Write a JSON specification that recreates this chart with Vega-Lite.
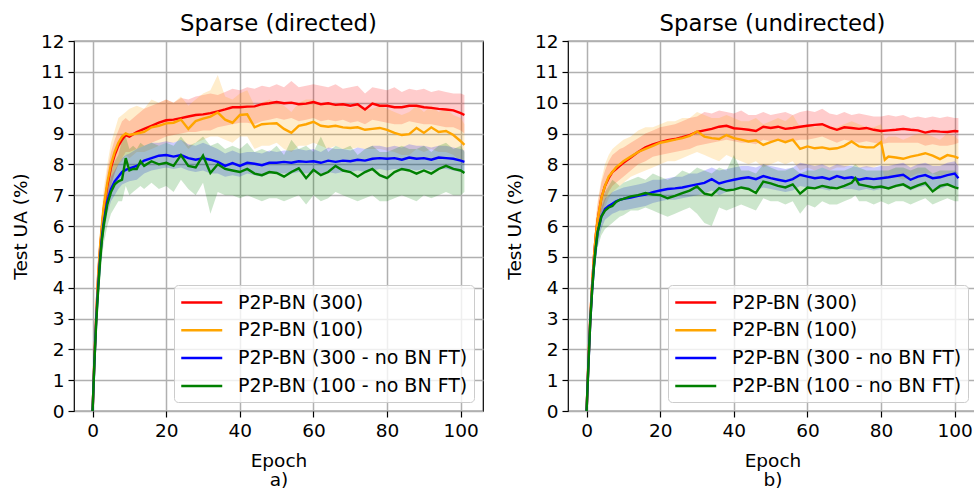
{
  "$schema": "https://vega.github.io/schema/vega-lite/v6.json",
  "padding": {"left": 10, "top": 12, "right": 0, "bottom": 0},
  "background": "white",
  "config": {
    "font": "DejaVu Sans",
    "view": {"stroke": "black", "strokeWidth": 1.2},
    "title": {"fontSize": 22.8, "fontWeight": "normal", "color": "black", "offset": -4, "anchor": "middle"},
    "axis": {
      "labelFontSize": 18.5, "labelColor": "black", "labelPadding": 4, "labelOverlap": false,
      "titleFontSize": 18.5, "titleFontWeight": "normal", "titleColor": "black",
      "tickColor": "black", "tickSize": 6, "tickWidth": 1.2,
      "domain": false, "grid": true, "gridColor": "#b0b0b0", "gridWidth": 1.5, "gridOpacity": 1
    },
    "legend": {
      "orient": "bottom-right", "offset": 9,
      "labelFontSize": 19, "labelColor": "black", "labelLimit": 500,
      "symbolType": "M-1,0H3", "symbolSize": 420, "symbolStrokeWidth": 2.5, "symbolOpacity": 1,
      "labelOffset": 35, "rowPadding": 5.8, "padding": 6,
      "strokeColor": "#cccccc", "fillColor": "rgba(255,255,255,0.8)", "cornerRadius": 4
    }
  },
  "datasets": {
    "dir": [
      {"s":"P2P-BN (300)","e":0,"y":0,"lo":0,"hi":0},
      {"s":"P2P-BN (300)","e":0.5,"y":1.7,"lo":1.5,"hi":1.9},
      {"s":"P2P-BN (300)","e":1,"y":3.1,"lo":2.8,"hi":3.4},
      {"s":"P2P-BN (300)","e":1.5,"y":4.3,"lo":3.9,"hi":4.6},
      {"s":"P2P-BN (300)","e":2,"y":5.2,"lo":4.8,"hi":5.6},
      {"s":"P2P-BN (300)","e":2.5,"y":5.9,"lo":5.5,"hi":6.3},
      {"s":"P2P-BN (300)","e":3,"y":6.5,"lo":6.0,"hi":6.9},
      {"s":"P2P-BN (300)","e":4,"y":7.3,"lo":6.8,"hi":7.8},
      {"s":"P2P-BN (300)","e":5,"y":7.9,"lo":7.3,"hi":8.4},
      {"s":"P2P-BN (300)","e":6,"y":8.3,"lo":7.7,"hi":8.8},
      {"s":"P2P-BN (300)","e":7,"y":8.6,"lo":8.0,"hi":9.1},
      {"s":"P2P-BN (300)","e":8,"y":8.8,"lo":8.2,"hi":9.4},
      {"s":"P2P-BN (300)","e":9,"y":8.95,"lo":8.4,"hi":9.5},
      {"s":"P2P-BN (300)","e":10,"y":8.9,"lo":8.4,"hi":9.4},
      {"s":"P2P-BN (300)","e":12,"y":9.05,"lo":8.5,"hi":9.6},
      {"s":"P2P-BN (300)","e":14,"y":9.15,"lo":8.6,"hi":9.8},
      {"s":"P2P-BN (300)","e":16,"y":9.25,"lo":8.7,"hi":9.9},
      {"s":"P2P-BN (300)","e":18,"y":9.35,"lo":8.8,"hi":10.0},
      {"s":"P2P-BN (300)","e":20,"y":9.43,"lo":8.9,"hi":10.1},
      {"s":"P2P-BN (300)","e":22,"y":9.45,"lo":8.95,"hi":10.0},
      {"s":"P2P-BN (300)","e":24,"y":9.5,"lo":9.0,"hi":10.15},
      {"s":"P2P-BN (300)","e":26,"y":9.55,"lo":9.05,"hi":10.1},
      {"s":"P2P-BN (300)","e":28,"y":9.6,"lo":9.05,"hi":10.2},
      {"s":"P2P-BN (300)","e":30,"y":9.62,"lo":9.1,"hi":10.25},
      {"s":"P2P-BN (300)","e":32,"y":9.66,"lo":9.1,"hi":10.3},
      {"s":"P2P-BN (300)","e":34,"y":9.72,"lo":9.2,"hi":10.25},
      {"s":"P2P-BN (300)","e":36,"y":9.78,"lo":9.25,"hi":10.35},
      {"s":"P2P-BN (300)","e":38,"y":9.85,"lo":9.3,"hi":10.45},
      {"s":"P2P-BN (300)","e":40,"y":9.85,"lo":9.35,"hi":10.4},
      {"s":"P2P-BN (300)","e":42,"y":9.87,"lo":9.35,"hi":10.5},
      {"s":"P2P-BN (300)","e":44,"y":9.88,"lo":9.3,"hi":10.45},
      {"s":"P2P-BN (300)","e":46,"y":9.95,"lo":9.4,"hi":10.55},
      {"s":"P2P-BN (300)","e":48,"y":9.98,"lo":9.45,"hi":10.5},
      {"s":"P2P-BN (300)","e":50,"y":10.02,"lo":9.5,"hi":10.6},
      {"s":"P2P-BN (300)","e":52,"y":9.98,"lo":9.45,"hi":10.5},
      {"s":"P2P-BN (300)","e":54,"y":10.0,"lo":9.5,"hi":10.7},
      {"s":"P2P-BN (300)","e":56,"y":9.95,"lo":9.4,"hi":10.5},
      {"s":"P2P-BN (300)","e":58,"y":9.97,"lo":9.45,"hi":10.55},
      {"s":"P2P-BN (300)","e":60,"y":10.02,"lo":9.5,"hi":10.6},
      {"s":"P2P-BN (300)","e":62,"y":9.95,"lo":9.4,"hi":10.55},
      {"s":"P2P-BN (300)","e":64,"y":9.98,"lo":9.45,"hi":10.5},
      {"s":"P2P-BN (300)","e":66,"y":9.93,"lo":9.4,"hi":10.6},
      {"s":"P2P-BN (300)","e":68,"y":9.95,"lo":9.45,"hi":10.45},
      {"s":"P2P-BN (300)","e":70,"y":9.9,"lo":9.35,"hi":10.5},
      {"s":"P2P-BN (300)","e":72,"y":9.95,"lo":9.4,"hi":10.55},
      {"s":"P2P-BN (300)","e":74,"y":9.78,"lo":9.3,"hi":10.3},
      {"s":"P2P-BN (300)","e":76,"y":9.97,"lo":9.45,"hi":10.5},
      {"s":"P2P-BN (300)","e":78,"y":9.9,"lo":9.4,"hi":10.45},
      {"s":"P2P-BN (300)","e":80,"y":9.9,"lo":9.35,"hi":10.4},
      {"s":"P2P-BN (300)","e":82,"y":9.85,"lo":9.3,"hi":10.5},
      {"s":"P2P-BN (300)","e":84,"y":9.85,"lo":9.3,"hi":10.35},
      {"s":"P2P-BN (300)","e":86,"y":9.9,"lo":9.4,"hi":10.45},
      {"s":"P2P-BN (300)","e":88,"y":9.9,"lo":9.35,"hi":10.4},
      {"s":"P2P-BN (300)","e":90,"y":9.85,"lo":9.3,"hi":10.45},
      {"s":"P2P-BN (300)","e":92,"y":9.83,"lo":9.3,"hi":10.35},
      {"s":"P2P-BN (300)","e":94,"y":9.8,"lo":9.25,"hi":10.4},
      {"s":"P2P-BN (300)","e":96,"y":9.78,"lo":9.2,"hi":10.35},
      {"s":"P2P-BN (300)","e":98,"y":9.75,"lo":9.2,"hi":10.3},
      {"s":"P2P-BN (300)","e":100,"y":9.66,"lo":9.1,"hi":10.3},
      {"s":"P2P-BN (300)","e":101,"y":9.6,"lo":9.0,"hi":10.25},

      {"s":"P2P-BN (100)","e":0,"y":0,"lo":0,"hi":0},
      {"s":"P2P-BN (100)","e":0.5,"y":1.7,"lo":1.4,"hi":2.0},
      {"s":"P2P-BN (100)","e":1,"y":3.1,"lo":2.7,"hi":3.5},
      {"s":"P2P-BN (100)","e":1.5,"y":4.4,"lo":3.9,"hi":4.9},
      {"s":"P2P-BN (100)","e":2,"y":5.3,"lo":4.8,"hi":5.8},
      {"s":"P2P-BN (100)","e":2.5,"y":6.0,"lo":5.4,"hi":6.5},
      {"s":"P2P-BN (100)","e":3,"y":6.6,"lo":6.0,"hi":7.2},
      {"s":"P2P-BN (100)","e":4,"y":7.4,"lo":6.8,"hi":8.0},
      {"s":"P2P-BN (100)","e":5,"y":8.0,"lo":7.3,"hi":8.7},
      {"s":"P2P-BN (100)","e":6,"y":8.4,"lo":7.7,"hi":9.1},
      {"s":"P2P-BN (100)","e":7,"y":8.7,"lo":8.0,"hi":9.5},
      {"s":"P2P-BN (100)","e":8,"y":8.9,"lo":8.1,"hi":9.6},
      {"s":"P2P-BN (100)","e":9,"y":9.0,"lo":8.3,"hi":9.7},
      {"s":"P2P-BN (100)","e":10,"y":8.95,"lo":8.2,"hi":9.8},
      {"s":"P2P-BN (100)","e":12,"y":9.0,"lo":8.4,"hi":9.9},
      {"s":"P2P-BN (100)","e":14,"y":9.05,"lo":8.4,"hi":9.8},
      {"s":"P2P-BN (100)","e":16,"y":9.2,"lo":8.5,"hi":10.1},
      {"s":"P2P-BN (100)","e":18,"y":9.25,"lo":8.6,"hi":10.0},
      {"s":"P2P-BN (100)","e":20,"y":9.33,"lo":8.7,"hi":10.1},
      {"s":"P2P-BN (100)","e":22,"y":9.35,"lo":8.7,"hi":10.0},
      {"s":"P2P-BN (100)","e":24,"y":9.45,"lo":8.8,"hi":10.2},
      {"s":"P2P-BN (100)","e":26,"y":9.15,"lo":8.5,"hi":9.9},
      {"s":"P2P-BN (100)","e":28,"y":9.4,"lo":8.7,"hi":10.1},
      {"s":"P2P-BN (100)","e":30,"y":9.48,"lo":8.8,"hi":10.3},
      {"s":"P2P-BN (100)","e":32,"y":9.55,"lo":8.9,"hi":10.4},
      {"s":"P2P-BN (100)","e":34,"y":9.68,"lo":8.9,"hi":10.9},
      {"s":"P2P-BN (100)","e":36,"y":9.45,"lo":8.8,"hi":10.2},
      {"s":"P2P-BN (100)","e":38,"y":9.35,"lo":8.7,"hi":10.1},
      {"s":"P2P-BN (100)","e":40,"y":9.6,"lo":8.9,"hi":10.3},
      {"s":"P2P-BN (100)","e":42,"y":9.62,"lo":8.9,"hi":10.4},
      {"s":"P2P-BN (100)","e":44,"y":9.2,"lo":8.5,"hi":9.9},
      {"s":"P2P-BN (100)","e":46,"y":9.3,"lo":8.6,"hi":10.0},
      {"s":"P2P-BN (100)","e":48,"y":9.32,"lo":8.6,"hi":10.1},
      {"s":"P2P-BN (100)","e":50,"y":9.33,"lo":8.7,"hi":10.0},
      {"s":"P2P-BN (100)","e":52,"y":9.15,"lo":8.5,"hi":9.9},
      {"s":"P2P-BN (100)","e":54,"y":9.02,"lo":8.4,"hi":9.7},
      {"s":"P2P-BN (100)","e":56,"y":9.25,"lo":8.6,"hi":10.0},
      {"s":"P2P-BN (100)","e":58,"y":9.3,"lo":8.6,"hi":10.1},
      {"s":"P2P-BN (100)","e":60,"y":9.38,"lo":8.7,"hi":10.1},
      {"s":"P2P-BN (100)","e":62,"y":9.25,"lo":8.6,"hi":9.9},
      {"s":"P2P-BN (100)","e":64,"y":9.22,"lo":8.5,"hi":10.0},
      {"s":"P2P-BN (100)","e":66,"y":9.25,"lo":8.6,"hi":9.9},
      {"s":"P2P-BN (100)","e":68,"y":9.2,"lo":8.5,"hi":9.9},
      {"s":"P2P-BN (100)","e":70,"y":9.18,"lo":8.5,"hi":9.8},
      {"s":"P2P-BN (100)","e":72,"y":9.2,"lo":8.55,"hi":9.9},
      {"s":"P2P-BN (100)","e":74,"y":9.12,"lo":8.5,"hi":9.8},
      {"s":"P2P-BN (100)","e":76,"y":9.15,"lo":8.5,"hi":9.8},
      {"s":"P2P-BN (100)","e":78,"y":9.18,"lo":8.5,"hi":9.9},
      {"s":"P2P-BN (100)","e":80,"y":9.12,"lo":8.45,"hi":9.8},
      {"s":"P2P-BN (100)","e":82,"y":9.02,"lo":8.4,"hi":9.7},
      {"s":"P2P-BN (100)","e":84,"y":8.95,"lo":8.3,"hi":9.6},
      {"s":"P2P-BN (100)","e":86,"y":8.98,"lo":8.3,"hi":9.7},
      {"s":"P2P-BN (100)","e":88,"y":9.18,"lo":8.5,"hi":9.9},
      {"s":"P2P-BN (100)","e":90,"y":9.02,"lo":8.4,"hi":9.7},
      {"s":"P2P-BN (100)","e":92,"y":9.2,"lo":8.5,"hi":9.9},
      {"s":"P2P-BN (100)","e":94,"y":9.05,"lo":8.4,"hi":9.7},
      {"s":"P2P-BN (100)","e":96,"y":9.08,"lo":8.4,"hi":9.8},
      {"s":"P2P-BN (100)","e":98,"y":8.95,"lo":8.3,"hi":9.6},
      {"s":"P2P-BN (100)","e":100,"y":8.75,"lo":8.1,"hi":9.5},
      {"s":"P2P-BN (100)","e":101,"y":8.63,"lo":8.0,"hi":9.3},

      {"s":"P2P-BN (300 - no BN FT)","e":0,"y":0,"lo":0,"hi":0},
      {"s":"P2P-BN (300 - no BN FT)","e":0.5,"y":1.6,"lo":1.4,"hi":1.8},
      {"s":"P2P-BN (300 - no BN FT)","e":1,"y":3.0,"lo":2.7,"hi":3.2},
      {"s":"P2P-BN (300 - no BN FT)","e":1.5,"y":4.0,"lo":3.7,"hi":4.3},
      {"s":"P2P-BN (300 - no BN FT)","e":2,"y":4.9,"lo":4.5,"hi":5.2},
      {"s":"P2P-BN (300 - no BN FT)","e":2.5,"y":5.6,"lo":5.2,"hi":5.9},
      {"s":"P2P-BN (300 - no BN FT)","e":3,"y":6.1,"lo":5.7,"hi":6.4},
      {"s":"P2P-BN (300 - no BN FT)","e":4,"y":6.8,"lo":6.4,"hi":7.1},
      {"s":"P2P-BN (300 - no BN FT)","e":5,"y":7.2,"lo":6.8,"hi":7.6},
      {"s":"P2P-BN (300 - no BN FT)","e":6,"y":7.45,"lo":7.0,"hi":7.8},
      {"s":"P2P-BN (300 - no BN FT)","e":7,"y":7.6,"lo":7.2,"hi":8.0},
      {"s":"P2P-BN (300 - no BN FT)","e":8,"y":7.75,"lo":7.35,"hi":8.2},
      {"s":"P2P-BN (300 - no BN FT)","e":9,"y":7.82,"lo":7.4,"hi":8.3},
      {"s":"P2P-BN (300 - no BN FT)","e":10,"y":7.87,"lo":7.45,"hi":8.35},
      {"s":"P2P-BN (300 - no BN FT)","e":12,"y":7.95,"lo":7.5,"hi":8.5},
      {"s":"P2P-BN (300 - no BN FT)","e":14,"y":8.12,"lo":7.7,"hi":8.6},
      {"s":"P2P-BN (300 - no BN FT)","e":16,"y":8.2,"lo":7.8,"hi":8.7},
      {"s":"P2P-BN (300 - no BN FT)","e":18,"y":8.28,"lo":7.85,"hi":8.7},
      {"s":"P2P-BN (300 - no BN FT)","e":20,"y":8.3,"lo":7.9,"hi":8.75},
      {"s":"P2P-BN (300 - no BN FT)","e":22,"y":8.25,"lo":7.85,"hi":8.7},
      {"s":"P2P-BN (300 - no BN FT)","e":24,"y":8.3,"lo":7.9,"hi":8.8},
      {"s":"P2P-BN (300 - no BN FT)","e":26,"y":8.2,"lo":7.8,"hi":8.65},
      {"s":"P2P-BN (300 - no BN FT)","e":28,"y":8.15,"lo":7.75,"hi":8.6},
      {"s":"P2P-BN (300 - no BN FT)","e":30,"y":8.2,"lo":7.8,"hi":8.7},
      {"s":"P2P-BN (300 - no BN FT)","e":32,"y":8.15,"lo":7.7,"hi":8.6},
      {"s":"P2P-BN (300 - no BN FT)","e":34,"y":8.08,"lo":7.7,"hi":8.5},
      {"s":"P2P-BN (300 - no BN FT)","e":36,"y":7.95,"lo":7.6,"hi":8.35},
      {"s":"P2P-BN (300 - no BN FT)","e":38,"y":8.04,"lo":7.65,"hi":8.45},
      {"s":"P2P-BN (300 - no BN FT)","e":40,"y":7.95,"lo":7.6,"hi":8.35},
      {"s":"P2P-BN (300 - no BN FT)","e":42,"y":8.05,"lo":7.7,"hi":8.4},
      {"s":"P2P-BN (300 - no BN FT)","e":44,"y":8.02,"lo":7.65,"hi":8.4},
      {"s":"P2P-BN (300 - no BN FT)","e":46,"y":7.97,"lo":7.6,"hi":8.35},
      {"s":"P2P-BN (300 - no BN FT)","e":48,"y":8.05,"lo":7.7,"hi":8.45},
      {"s":"P2P-BN (300 - no BN FT)","e":50,"y":8.05,"lo":7.7,"hi":8.4},
      {"s":"P2P-BN (300 - no BN FT)","e":52,"y":8.08,"lo":7.7,"hi":8.45},
      {"s":"P2P-BN (300 - no BN FT)","e":54,"y":8.05,"lo":7.7,"hi":8.45},
      {"s":"P2P-BN (300 - no BN FT)","e":56,"y":8.1,"lo":7.75,"hi":8.5},
      {"s":"P2P-BN (300 - no BN FT)","e":58,"y":8.08,"lo":7.7,"hi":8.45},
      {"s":"P2P-BN (300 - no BN FT)","e":60,"y":8.1,"lo":7.75,"hi":8.5},
      {"s":"P2P-BN (300 - no BN FT)","e":62,"y":8.05,"lo":7.7,"hi":8.4},
      {"s":"P2P-BN (300 - no BN FT)","e":64,"y":8.12,"lo":7.75,"hi":8.55},
      {"s":"P2P-BN (300 - no BN FT)","e":66,"y":8.08,"lo":7.7,"hi":8.5},
      {"s":"P2P-BN (300 - no BN FT)","e":68,"y":8.12,"lo":7.75,"hi":8.5},
      {"s":"P2P-BN (300 - no BN FT)","e":70,"y":8.1,"lo":7.75,"hi":8.45},
      {"s":"P2P-BN (300 - no BN FT)","e":72,"y":8.15,"lo":7.8,"hi":8.55},
      {"s":"P2P-BN (300 - no BN FT)","e":74,"y":8.12,"lo":7.75,"hi":8.5},
      {"s":"P2P-BN (300 - no BN FT)","e":76,"y":8.18,"lo":7.8,"hi":8.6},
      {"s":"P2P-BN (300 - no BN FT)","e":78,"y":8.2,"lo":7.85,"hi":8.6},
      {"s":"P2P-BN (300 - no BN FT)","e":80,"y":8.18,"lo":7.8,"hi":8.55},
      {"s":"P2P-BN (300 - no BN FT)","e":82,"y":8.2,"lo":7.85,"hi":8.6},
      {"s":"P2P-BN (300 - no BN FT)","e":84,"y":8.15,"lo":7.8,"hi":8.55},
      {"s":"P2P-BN (300 - no BN FT)","e":86,"y":8.22,"lo":7.85,"hi":8.65},
      {"s":"P2P-BN (300 - no BN FT)","e":88,"y":8.18,"lo":7.8,"hi":8.6},
      {"s":"P2P-BN (300 - no BN FT)","e":90,"y":8.2,"lo":7.85,"hi":8.6},
      {"s":"P2P-BN (300 - no BN FT)","e":92,"y":8.15,"lo":7.8,"hi":8.55},
      {"s":"P2P-BN (300 - no BN FT)","e":94,"y":8.22,"lo":7.85,"hi":8.6},
      {"s":"P2P-BN (300 - no BN FT)","e":96,"y":8.2,"lo":7.85,"hi":8.6},
      {"s":"P2P-BN (300 - no BN FT)","e":98,"y":8.18,"lo":7.8,"hi":8.55},
      {"s":"P2P-BN (300 - no BN FT)","e":100,"y":8.12,"lo":7.75,"hi":8.5},
      {"s":"P2P-BN (300 - no BN FT)","e":101,"y":8.08,"lo":7.7,"hi":8.45},

      {"s":"P2P-BN (100 - no BN FT)","e":0,"y":0,"lo":0,"hi":0},
      {"s":"P2P-BN (100 - no BN FT)","e":0.5,"y":1.6,"lo":1.3,"hi":1.9},
      {"s":"P2P-BN (100 - no BN FT)","e":1,"y":2.9,"lo":2.5,"hi":3.3},
      {"s":"P2P-BN (100 - no BN FT)","e":1.5,"y":3.9,"lo":3.4,"hi":4.4},
      {"s":"P2P-BN (100 - no BN FT)","e":2,"y":4.8,"lo":4.2,"hi":5.3},
      {"s":"P2P-BN (100 - no BN FT)","e":2.5,"y":5.5,"lo":4.9,"hi":6.0},
      {"s":"P2P-BN (100 - no BN FT)","e":3,"y":6.0,"lo":5.4,"hi":6.6},
      {"s":"P2P-BN (100 - no BN FT)","e":4,"y":6.7,"lo":6.0,"hi":7.3},
      {"s":"P2P-BN (100 - no BN FT)","e":5,"y":7.1,"lo":6.4,"hi":7.8},
      {"s":"P2P-BN (100 - no BN FT)","e":6,"y":7.35,"lo":6.6,"hi":8.1},
      {"s":"P2P-BN (100 - no BN FT)","e":7,"y":7.45,"lo":6.8,"hi":8.3},
      {"s":"P2P-BN (100 - no BN FT)","e":8,"y":7.5,"lo":6.8,"hi":8.8},
      {"s":"P2P-BN (100 - no BN FT)","e":9,"y":8.2,"lo":7.3,"hi":8.9},
      {"s":"P2P-BN (100 - no BN FT)","e":10,"y":7.8,"lo":7.0,"hi":8.5},
      {"s":"P2P-BN (100 - no BN FT)","e":11,"y":7.85,"lo":7.1,"hi":8.6},
      {"s":"P2P-BN (100 - no BN FT)","e":12,"y":7.85,"lo":7.2,"hi":8.5},
      {"s":"P2P-BN (100 - no BN FT)","e":13,"y":8.1,"lo":7.3,"hi":8.7},
      {"s":"P2P-BN (100 - no BN FT)","e":14,"y":7.95,"lo":7.2,"hi":8.6},
      {"s":"P2P-BN (100 - no BN FT)","e":16,"y":8.1,"lo":7.4,"hi":8.7},
      {"s":"P2P-BN (100 - no BN FT)","e":18,"y":8.0,"lo":7.2,"hi":8.6},
      {"s":"P2P-BN (100 - no BN FT)","e":20,"y":8.05,"lo":7.3,"hi":8.7},
      {"s":"P2P-BN (100 - no BN FT)","e":22,"y":7.95,"lo":7.1,"hi":8.6},
      {"s":"P2P-BN (100 - no BN FT)","e":24,"y":8.3,"lo":7.5,"hi":8.9},
      {"s":"P2P-BN (100 - no BN FT)","e":26,"y":7.95,"lo":7.2,"hi":8.6},
      {"s":"P2P-BN (100 - no BN FT)","e":28,"y":7.9,"lo":7.0,"hi":8.7},
      {"s":"P2P-BN (100 - no BN FT)","e":30,"y":8.28,"lo":7.4,"hi":8.9},
      {"s":"P2P-BN (100 - no BN FT)","e":32,"y":7.72,"lo":6.4,"hi":8.6},
      {"s":"P2P-BN (100 - no BN FT)","e":34,"y":8.0,"lo":7.1,"hi":8.7},
      {"s":"P2P-BN (100 - no BN FT)","e":36,"y":7.85,"lo":7.0,"hi":8.5},
      {"s":"P2P-BN (100 - no BN FT)","e":38,"y":7.8,"lo":7.0,"hi":8.6},
      {"s":"P2P-BN (100 - no BN FT)","e":40,"y":7.75,"lo":6.9,"hi":8.5},
      {"s":"P2P-BN (100 - no BN FT)","e":42,"y":7.85,"lo":7.0,"hi":8.7},
      {"s":"P2P-BN (100 - no BN FT)","e":44,"y":7.7,"lo":6.9,"hi":8.4},
      {"s":"P2P-BN (100 - no BN FT)","e":46,"y":7.65,"lo":6.8,"hi":8.5},
      {"s":"P2P-BN (100 - no BN FT)","e":48,"y":7.75,"lo":6.9,"hi":8.4},
      {"s":"P2P-BN (100 - no BN FT)","e":50,"y":7.72,"lo":6.9,"hi":8.6},
      {"s":"P2P-BN (100 - no BN FT)","e":52,"y":7.6,"lo":6.8,"hi":8.3},
      {"s":"P2P-BN (100 - no BN FT)","e":54,"y":7.75,"lo":6.9,"hi":8.8},
      {"s":"P2P-BN (100 - no BN FT)","e":56,"y":7.87,"lo":7.0,"hi":8.5},
      {"s":"P2P-BN (100 - no BN FT)","e":58,"y":7.55,"lo":6.7,"hi":8.6},
      {"s":"P2P-BN (100 - no BN FT)","e":60,"y":7.82,"lo":7.0,"hi":8.4},
      {"s":"P2P-BN (100 - no BN FT)","e":62,"y":7.65,"lo":6.8,"hi":8.9},
      {"s":"P2P-BN (100 - no BN FT)","e":64,"y":7.75,"lo":6.9,"hi":8.4},
      {"s":"P2P-BN (100 - no BN FT)","e":66,"y":7.95,"lo":7.1,"hi":8.6},
      {"s":"P2P-BN (100 - no BN FT)","e":68,"y":7.8,"lo":7.0,"hi":8.5},
      {"s":"P2P-BN (100 - no BN FT)","e":70,"y":7.75,"lo":6.9,"hi":8.6},
      {"s":"P2P-BN (100 - no BN FT)","e":72,"y":7.6,"lo":6.8,"hi":8.3},
      {"s":"P2P-BN (100 - no BN FT)","e":74,"y":7.75,"lo":6.9,"hi":8.5},
      {"s":"P2P-BN (100 - no BN FT)","e":76,"y":7.85,"lo":7.0,"hi":8.6},
      {"s":"P2P-BN (100 - no BN FT)","e":78,"y":7.65,"lo":6.8,"hi":8.4},
      {"s":"P2P-BN (100 - no BN FT)","e":80,"y":7.55,"lo":6.8,"hi":8.4},
      {"s":"P2P-BN (100 - no BN FT)","e":82,"y":7.75,"lo":6.9,"hi":8.5},
      {"s":"P2P-BN (100 - no BN FT)","e":84,"y":7.85,"lo":7.0,"hi":8.6},
      {"s":"P2P-BN (100 - no BN FT)","e":86,"y":7.8,"lo":6.9,"hi":8.5},
      {"s":"P2P-BN (100 - no BN FT)","e":88,"y":7.7,"lo":6.8,"hi":8.5},
      {"s":"P2P-BN (100 - no BN FT)","e":90,"y":7.8,"lo":7.0,"hi":8.6},
      {"s":"P2P-BN (100 - no BN FT)","e":92,"y":7.7,"lo":6.9,"hi":8.4},
      {"s":"P2P-BN (100 - no BN FT)","e":94,"y":7.85,"lo":7.0,"hi":8.6},
      {"s":"P2P-BN (100 - no BN FT)","e":96,"y":7.95,"lo":7.1,"hi":8.7},
      {"s":"P2P-BN (100 - no BN FT)","e":98,"y":7.85,"lo":7.0,"hi":8.5},
      {"s":"P2P-BN (100 - no BN FT)","e":100,"y":7.8,"lo":7.0,"hi":8.6},
      {"s":"P2P-BN (100 - no BN FT)","e":101,"y":7.72,"lo":7.1,"hi":8.4}
    ],
    "und": [
      {"s":"P2P-BN (300)","e":0,"y":0,"lo":0,"hi":0},
      {"s":"P2P-BN (300)","e":0.5,"y":1.6,"lo":1.4,"hi":1.8},
      {"s":"P2P-BN (300)","e":1,"y":3.0,"lo":2.7,"hi":3.3},
      {"s":"P2P-BN (300)","e":1.5,"y":4.1,"lo":3.7,"hi":4.5},
      {"s":"P2P-BN (300)","e":2,"y":5.0,"lo":4.6,"hi":5.4},
      {"s":"P2P-BN (300)","e":2.5,"y":5.7,"lo":5.3,"hi":6.1},
      {"s":"P2P-BN (300)","e":3,"y":6.2,"lo":5.8,"hi":6.7},
      {"s":"P2P-BN (300)","e":4,"y":6.9,"lo":6.4,"hi":7.4},
      {"s":"P2P-BN (300)","e":5,"y":7.3,"lo":6.8,"hi":7.8},
      {"s":"P2P-BN (300)","e":6,"y":7.55,"lo":7.1,"hi":8.1},
      {"s":"P2P-BN (300)","e":7,"y":7.75,"lo":7.3,"hi":8.3},
      {"s":"P2P-BN (300)","e":8,"y":7.85,"lo":7.4,"hi":8.4},
      {"s":"P2P-BN (300)","e":9,"y":7.95,"lo":7.5,"hi":8.5},
      {"s":"P2P-BN (300)","e":10,"y":8.05,"lo":7.6,"hi":8.55},
      {"s":"P2P-BN (300)","e":12,"y":8.22,"lo":7.8,"hi":8.7},
      {"s":"P2P-BN (300)","e":14,"y":8.4,"lo":8.0,"hi":8.85},
      {"s":"P2P-BN (300)","e":16,"y":8.55,"lo":8.1,"hi":9.0},
      {"s":"P2P-BN (300)","e":18,"y":8.65,"lo":8.25,"hi":9.1},
      {"s":"P2P-BN (300)","e":20,"y":8.72,"lo":8.3,"hi":9.2},
      {"s":"P2P-BN (300)","e":22,"y":8.78,"lo":8.35,"hi":9.25},
      {"s":"P2P-BN (300)","e":24,"y":8.82,"lo":8.4,"hi":9.3},
      {"s":"P2P-BN (300)","e":26,"y":8.88,"lo":8.45,"hi":9.4},
      {"s":"P2P-BN (300)","e":28,"y":8.95,"lo":8.5,"hi":9.5},
      {"s":"P2P-BN (300)","e":30,"y":9.05,"lo":8.6,"hi":9.55},
      {"s":"P2P-BN (300)","e":32,"y":9.1,"lo":8.65,"hi":9.7},
      {"s":"P2P-BN (300)","e":34,"y":9.15,"lo":8.7,"hi":9.65},
      {"s":"P2P-BN (300)","e":36,"y":9.22,"lo":8.75,"hi":9.75},
      {"s":"P2P-BN (300)","e":38,"y":9.25,"lo":8.8,"hi":9.7},
      {"s":"P2P-BN (300)","e":40,"y":9.17,"lo":8.75,"hi":9.65},
      {"s":"P2P-BN (300)","e":42,"y":9.15,"lo":8.7,"hi":9.75},
      {"s":"P2P-BN (300)","e":44,"y":9.12,"lo":8.7,"hi":9.6},
      {"s":"P2P-BN (300)","e":46,"y":9.08,"lo":8.65,"hi":9.6},
      {"s":"P2P-BN (300)","e":48,"y":9.22,"lo":8.8,"hi":9.7},
      {"s":"P2P-BN (300)","e":50,"y":9.18,"lo":8.75,"hi":9.6},
      {"s":"P2P-BN (300)","e":52,"y":9.22,"lo":8.8,"hi":9.65},
      {"s":"P2P-BN (300)","e":54,"y":9.15,"lo":8.75,"hi":9.7},
      {"s":"P2P-BN (300)","e":56,"y":9.18,"lo":8.75,"hi":9.6},
      {"s":"P2P-BN (300)","e":58,"y":9.22,"lo":8.8,"hi":9.7},
      {"s":"P2P-BN (300)","e":60,"y":9.25,"lo":8.8,"hi":9.75},
      {"s":"P2P-BN (300)","e":62,"y":9.28,"lo":8.85,"hi":9.7},
      {"s":"P2P-BN (300)","e":64,"y":9.3,"lo":8.9,"hi":9.8},
      {"s":"P2P-BN (300)","e":66,"y":9.2,"lo":8.8,"hi":9.65},
      {"s":"P2P-BN (300)","e":68,"y":9.12,"lo":8.7,"hi":9.6},
      {"s":"P2P-BN (300)","e":70,"y":9.2,"lo":8.8,"hi":9.7},
      {"s":"P2P-BN (300)","e":72,"y":9.18,"lo":8.75,"hi":9.6},
      {"s":"P2P-BN (300)","e":74,"y":9.15,"lo":8.7,"hi":9.65},
      {"s":"P2P-BN (300)","e":76,"y":9.18,"lo":8.75,"hi":9.6},
      {"s":"P2P-BN (300)","e":78,"y":9.12,"lo":8.7,"hi":9.55},
      {"s":"P2P-BN (300)","e":80,"y":9.08,"lo":8.65,"hi":9.55},
      {"s":"P2P-BN (300)","e":82,"y":9.1,"lo":8.7,"hi":9.6},
      {"s":"P2P-BN (300)","e":84,"y":9.12,"lo":8.7,"hi":9.55},
      {"s":"P2P-BN (300)","e":86,"y":9.15,"lo":8.7,"hi":9.6},
      {"s":"P2P-BN (300)","e":88,"y":9.12,"lo":8.7,"hi":9.5},
      {"s":"P2P-BN (300)","e":90,"y":9.1,"lo":8.7,"hi":9.55},
      {"s":"P2P-BN (300)","e":92,"y":9.03,"lo":8.6,"hi":9.5},
      {"s":"P2P-BN (300)","e":94,"y":9.08,"lo":8.65,"hi":9.55},
      {"s":"P2P-BN (300)","e":96,"y":9.06,"lo":8.6,"hi":9.5},
      {"s":"P2P-BN (300)","e":98,"y":9.05,"lo":8.6,"hi":9.55},
      {"s":"P2P-BN (300)","e":100,"y":9.08,"lo":8.65,"hi":9.5},
      {"s":"P2P-BN (300)","e":101,"y":9.07,"lo":8.7,"hi":9.5},

      {"s":"P2P-BN (100)","e":0,"y":0,"lo":0,"hi":0},
      {"s":"P2P-BN (100)","e":0.5,"y":1.6,"lo":1.3,"hi":1.9},
      {"s":"P2P-BN (100)","e":1,"y":3.0,"lo":2.6,"hi":3.4},
      {"s":"P2P-BN (100)","e":1.5,"y":4.1,"lo":3.6,"hi":4.6},
      {"s":"P2P-BN (100)","e":2,"y":5.0,"lo":4.5,"hi":5.5},
      {"s":"P2P-BN (100)","e":2.5,"y":5.7,"lo":5.2,"hi":6.3},
      {"s":"P2P-BN (100)","e":3,"y":6.2,"lo":5.6,"hi":6.8},
      {"s":"P2P-BN (100)","e":4,"y":6.9,"lo":6.3,"hi":7.5},
      {"s":"P2P-BN (100)","e":5,"y":7.3,"lo":6.6,"hi":8.0},
      {"s":"P2P-BN (100)","e":6,"y":7.6,"lo":6.9,"hi":8.3},
      {"s":"P2P-BN (100)","e":7,"y":7.75,"lo":7.1,"hi":8.5},
      {"s":"P2P-BN (100)","e":8,"y":7.9,"lo":7.2,"hi":8.6},
      {"s":"P2P-BN (100)","e":9,"y":8.0,"lo":7.3,"hi":8.7},
      {"s":"P2P-BN (100)","e":10,"y":8.1,"lo":7.4,"hi":8.8},
      {"s":"P2P-BN (100)","e":12,"y":8.25,"lo":7.6,"hi":8.9},
      {"s":"P2P-BN (100)","e":14,"y":8.4,"lo":7.7,"hi":9.1},
      {"s":"P2P-BN (100)","e":16,"y":8.5,"lo":7.8,"hi":9.2},
      {"s":"P2P-BN (100)","e":18,"y":8.6,"lo":7.9,"hi":9.2},
      {"s":"P2P-BN (100)","e":20,"y":8.7,"lo":8.0,"hi":9.3},
      {"s":"P2P-BN (100)","e":22,"y":8.75,"lo":8.1,"hi":9.4},
      {"s":"P2P-BN (100)","e":24,"y":8.8,"lo":8.1,"hi":9.4},
      {"s":"P2P-BN (100)","e":26,"y":8.85,"lo":8.2,"hi":9.5},
      {"s":"P2P-BN (100)","e":28,"y":8.92,"lo":8.3,"hi":9.5},
      {"s":"P2P-BN (100)","e":30,"y":9.07,"lo":8.4,"hi":9.7},
      {"s":"P2P-BN (100)","e":32,"y":8.9,"lo":8.3,"hi":9.6},
      {"s":"P2P-BN (100)","e":34,"y":8.85,"lo":8.2,"hi":9.5},
      {"s":"P2P-BN (100)","e":36,"y":8.82,"lo":8.1,"hi":9.5},
      {"s":"P2P-BN (100)","e":38,"y":8.95,"lo":8.3,"hi":9.6},
      {"s":"P2P-BN (100)","e":40,"y":8.85,"lo":8.2,"hi":9.5},
      {"s":"P2P-BN (100)","e":42,"y":8.8,"lo":8.1,"hi":9.4},
      {"s":"P2P-BN (100)","e":44,"y":8.74,"lo":8.0,"hi":9.4},
      {"s":"P2P-BN (100)","e":46,"y":8.78,"lo":8.1,"hi":9.5},
      {"s":"P2P-BN (100)","e":48,"y":8.63,"lo":7.9,"hi":9.3},
      {"s":"P2P-BN (100)","e":50,"y":8.72,"lo":8.0,"hi":9.4},
      {"s":"P2P-BN (100)","e":52,"y":8.8,"lo":8.1,"hi":9.5},
      {"s":"P2P-BN (100)","e":54,"y":8.72,"lo":8.0,"hi":9.4},
      {"s":"P2P-BN (100)","e":56,"y":8.8,"lo":8.1,"hi":9.6},
      {"s":"P2P-BN (100)","e":58,"y":8.5,"lo":7.8,"hi":9.2},
      {"s":"P2P-BN (100)","e":60,"y":8.58,"lo":7.9,"hi":9.3},
      {"s":"P2P-BN (100)","e":62,"y":8.52,"lo":7.8,"hi":9.2},
      {"s":"P2P-BN (100)","e":64,"y":8.55,"lo":7.9,"hi":9.3},
      {"s":"P2P-BN (100)","e":66,"y":8.5,"lo":7.8,"hi":9.2},
      {"s":"P2P-BN (100)","e":68,"y":8.52,"lo":7.9,"hi":9.2},
      {"s":"P2P-BN (100)","e":70,"y":8.6,"lo":7.9,"hi":9.3},
      {"s":"P2P-BN (100)","e":72,"y":8.74,"lo":8.0,"hi":9.4},
      {"s":"P2P-BN (100)","e":74,"y":8.58,"lo":7.9,"hi":9.3},
      {"s":"P2P-BN (100)","e":76,"y":8.55,"lo":7.9,"hi":9.2},
      {"s":"P2P-BN (100)","e":78,"y":8.55,"lo":7.9,"hi":9.2},
      {"s":"P2P-BN (100)","e":80,"y":8.72,"lo":8.0,"hi":9.3},
      {"s":"P2P-BN (100)","e":81,"y":8.15,"lo":7.5,"hi":8.8},
      {"s":"P2P-BN (100)","e":82,"y":8.25,"lo":7.6,"hi":8.9},
      {"s":"P2P-BN (100)","e":84,"y":8.22,"lo":7.6,"hi":8.9},
      {"s":"P2P-BN (100)","e":86,"y":8.18,"lo":7.5,"hi":8.8},
      {"s":"P2P-BN (100)","e":88,"y":8.25,"lo":7.6,"hi":8.9},
      {"s":"P2P-BN (100)","e":90,"y":8.3,"lo":7.7,"hi":9.0},
      {"s":"P2P-BN (100)","e":92,"y":8.36,"lo":7.7,"hi":9.0},
      {"s":"P2P-BN (100)","e":94,"y":8.28,"lo":7.7,"hi":8.9},
      {"s":"P2P-BN (100)","e":96,"y":8.17,"lo":7.6,"hi":8.8},
      {"s":"P2P-BN (100)","e":98,"y":8.3,"lo":7.7,"hi":9.0},
      {"s":"P2P-BN (100)","e":100,"y":8.25,"lo":7.7,"hi":8.9},
      {"s":"P2P-BN (100)","e":101,"y":8.2,"lo":7.7,"hi":8.8},

      {"s":"P2P-BN (300 - no BN FT)","e":0,"y":0,"lo":0,"hi":0},
      {"s":"P2P-BN (300 - no BN FT)","e":0.5,"y":1.5,"lo":1.3,"hi":1.7},
      {"s":"P2P-BN (300 - no BN FT)","e":1,"y":2.9,"lo":2.6,"hi":3.2},
      {"s":"P2P-BN (300 - no BN FT)","e":1.5,"y":3.9,"lo":3.5,"hi":4.2},
      {"s":"P2P-BN (300 - no BN FT)","e":2,"y":4.7,"lo":4.3,"hi":5.0},
      {"s":"P2P-BN (300 - no BN FT)","e":2.5,"y":5.3,"lo":4.9,"hi":5.6},
      {"s":"P2P-BN (300 - no BN FT)","e":3,"y":5.8,"lo":5.4,"hi":6.1},
      {"s":"P2P-BN (300 - no BN FT)","e":4,"y":6.3,"lo":5.9,"hi":6.6},
      {"s":"P2P-BN (300 - no BN FT)","e":5,"y":6.55,"lo":6.2,"hi":6.9},
      {"s":"P2P-BN (300 - no BN FT)","e":6,"y":6.65,"lo":6.3,"hi":7.0},
      {"s":"P2P-BN (300 - no BN FT)","e":7,"y":6.72,"lo":6.4,"hi":7.1},
      {"s":"P2P-BN (300 - no BN FT)","e":8,"y":6.8,"lo":6.45,"hi":7.15},
      {"s":"P2P-BN (300 - no BN FT)","e":9,"y":6.85,"lo":6.5,"hi":7.2},
      {"s":"P2P-BN (300 - no BN FT)","e":10,"y":6.88,"lo":6.5,"hi":7.25},
      {"s":"P2P-BN (300 - no BN FT)","e":12,"y":6.92,"lo":6.55,"hi":7.3},
      {"s":"P2P-BN (300 - no BN FT)","e":14,"y":6.98,"lo":6.6,"hi":7.35},
      {"s":"P2P-BN (300 - no BN FT)","e":16,"y":7.02,"lo":6.65,"hi":7.4},
      {"s":"P2P-BN (300 - no BN FT)","e":18,"y":7.1,"lo":6.75,"hi":7.5},
      {"s":"P2P-BN (300 - no BN FT)","e":20,"y":7.15,"lo":6.8,"hi":7.5},
      {"s":"P2P-BN (300 - no BN FT)","e":22,"y":7.2,"lo":6.85,"hi":7.55},
      {"s":"P2P-BN (300 - no BN FT)","e":24,"y":7.22,"lo":6.85,"hi":7.6},
      {"s":"P2P-BN (300 - no BN FT)","e":26,"y":7.25,"lo":6.9,"hi":7.6},
      {"s":"P2P-BN (300 - no BN FT)","e":28,"y":7.3,"lo":6.95,"hi":7.7},
      {"s":"P2P-BN (300 - no BN FT)","e":30,"y":7.35,"lo":7.0,"hi":7.7},
      {"s":"P2P-BN (300 - no BN FT)","e":32,"y":7.4,"lo":7.05,"hi":7.8},
      {"s":"P2P-BN (300 - no BN FT)","e":34,"y":7.52,"lo":7.15,"hi":7.9},
      {"s":"P2P-BN (300 - no BN FT)","e":36,"y":7.38,"lo":7.0,"hi":7.8},
      {"s":"P2P-BN (300 - no BN FT)","e":38,"y":7.45,"lo":7.1,"hi":7.85},
      {"s":"P2P-BN (300 - no BN FT)","e":40,"y":7.5,"lo":7.15,"hi":7.9},
      {"s":"P2P-BN (300 - no BN FT)","e":42,"y":7.55,"lo":7.2,"hi":7.95},
      {"s":"P2P-BN (300 - no BN FT)","e":44,"y":7.58,"lo":7.2,"hi":7.95},
      {"s":"P2P-BN (300 - no BN FT)","e":46,"y":7.52,"lo":7.15,"hi":7.9},
      {"s":"P2P-BN (300 - no BN FT)","e":48,"y":7.62,"lo":7.25,"hi":8.0},
      {"s":"P2P-BN (300 - no BN FT)","e":50,"y":7.55,"lo":7.2,"hi":7.95},
      {"s":"P2P-BN (300 - no BN FT)","e":52,"y":7.5,"lo":7.15,"hi":7.9},
      {"s":"P2P-BN (300 - no BN FT)","e":54,"y":7.45,"lo":7.1,"hi":7.85},
      {"s":"P2P-BN (300 - no BN FT)","e":56,"y":7.52,"lo":7.15,"hi":7.9},
      {"s":"P2P-BN (300 - no BN FT)","e":58,"y":7.66,"lo":7.3,"hi":8.05},
      {"s":"P2P-BN (300 - no BN FT)","e":60,"y":7.6,"lo":7.25,"hi":8.0},
      {"s":"P2P-BN (300 - no BN FT)","e":62,"y":7.55,"lo":7.2,"hi":7.95},
      {"s":"P2P-BN (300 - no BN FT)","e":64,"y":7.58,"lo":7.2,"hi":8.0},
      {"s":"P2P-BN (300 - no BN FT)","e":66,"y":7.52,"lo":7.15,"hi":7.9},
      {"s":"P2P-BN (300 - no BN FT)","e":68,"y":7.62,"lo":7.25,"hi":8.0},
      {"s":"P2P-BN (300 - no BN FT)","e":70,"y":7.55,"lo":7.2,"hi":7.95},
      {"s":"P2P-BN (300 - no BN FT)","e":72,"y":7.58,"lo":7.2,"hi":7.95},
      {"s":"P2P-BN (300 - no BN FT)","e":74,"y":7.5,"lo":7.15,"hi":7.9},
      {"s":"P2P-BN (300 - no BN FT)","e":76,"y":7.55,"lo":7.2,"hi":7.95},
      {"s":"P2P-BN (300 - no BN FT)","e":78,"y":7.52,"lo":7.15,"hi":7.9},
      {"s":"P2P-BN (300 - no BN FT)","e":80,"y":7.55,"lo":7.2,"hi":7.95},
      {"s":"P2P-BN (300 - no BN FT)","e":82,"y":7.58,"lo":7.2,"hi":7.95},
      {"s":"P2P-BN (300 - no BN FT)","e":84,"y":7.62,"lo":7.25,"hi":8.0},
      {"s":"P2P-BN (300 - no BN FT)","e":86,"y":7.66,"lo":7.3,"hi":8.05},
      {"s":"P2P-BN (300 - no BN FT)","e":88,"y":7.5,"lo":7.15,"hi":7.9},
      {"s":"P2P-BN (300 - no BN FT)","e":90,"y":7.6,"lo":7.25,"hi":8.0},
      {"s":"P2P-BN (300 - no BN FT)","e":92,"y":7.65,"lo":7.3,"hi":8.05},
      {"s":"P2P-BN (300 - no BN FT)","e":94,"y":7.55,"lo":7.2,"hi":7.95},
      {"s":"P2P-BN (300 - no BN FT)","e":96,"y":7.58,"lo":7.2,"hi":7.95},
      {"s":"P2P-BN (300 - no BN FT)","e":98,"y":7.65,"lo":7.3,"hi":8.05},
      {"s":"P2P-BN (300 - no BN FT)","e":100,"y":7.7,"lo":7.3,"hi":8.1},
      {"s":"P2P-BN (300 - no BN FT)","e":101,"y":7.55,"lo":7.2,"hi":7.95},

      {"s":"P2P-BN (100 - no BN FT)","e":0,"y":0,"lo":0,"hi":0},
      {"s":"P2P-BN (100 - no BN FT)","e":0.5,"y":1.5,"lo":1.3,"hi":1.7},
      {"s":"P2P-BN (100 - no BN FT)","e":1,"y":2.9,"lo":2.6,"hi":3.2},
      {"s":"P2P-BN (100 - no BN FT)","e":1.5,"y":3.9,"lo":3.5,"hi":4.3},
      {"s":"P2P-BN (100 - no BN FT)","e":2,"y":4.7,"lo":4.3,"hi":5.1},
      {"s":"P2P-BN (100 - no BN FT)","e":2.5,"y":5.3,"lo":4.9,"hi":5.7},
      {"s":"P2P-BN (100 - no BN FT)","e":3,"y":5.8,"lo":5.3,"hi":6.2},
      {"s":"P2P-BN (100 - no BN FT)","e":4,"y":6.3,"lo":5.7,"hi":6.8},
      {"s":"P2P-BN (100 - no BN FT)","e":5,"y":6.5,"lo":5.9,"hi":7.1},
      {"s":"P2P-BN (100 - no BN FT)","e":6,"y":6.6,"lo":6.0,"hi":7.3},
      {"s":"P2P-BN (100 - no BN FT)","e":7,"y":6.65,"lo":6.1,"hi":7.5},
      {"s":"P2P-BN (100 - no BN FT)","e":8,"y":6.78,"lo":6.2,"hi":7.4},
      {"s":"P2P-BN (100 - no BN FT)","e":9,"y":6.85,"lo":6.3,"hi":7.3},
      {"s":"P2P-BN (100 - no BN FT)","e":10,"y":6.88,"lo":6.35,"hi":7.4},
      {"s":"P2P-BN (100 - no BN FT)","e":12,"y":6.96,"lo":6.5,"hi":7.5},
      {"s":"P2P-BN (100 - no BN FT)","e":14,"y":7.0,"lo":6.5,"hi":7.6},
      {"s":"P2P-BN (100 - no BN FT)","e":16,"y":7.07,"lo":6.6,"hi":7.5},
      {"s":"P2P-BN (100 - no BN FT)","e":18,"y":7.02,"lo":6.5,"hi":7.7},
      {"s":"P2P-BN (100 - no BN FT)","e":20,"y":7.0,"lo":6.4,"hi":7.6},
      {"s":"P2P-BN (100 - no BN FT)","e":22,"y":6.9,"lo":6.3,"hi":7.5},
      {"s":"P2P-BN (100 - no BN FT)","e":24,"y":6.98,"lo":6.4,"hi":7.6},
      {"s":"P2P-BN (100 - no BN FT)","e":26,"y":7.07,"lo":6.5,"hi":7.8},
      {"s":"P2P-BN (100 - no BN FT)","e":28,"y":7.15,"lo":6.6,"hi":7.7},
      {"s":"P2P-BN (100 - no BN FT)","e":30,"y":7.28,"lo":6.4,"hi":7.9},
      {"s":"P2P-BN (100 - no BN FT)","e":32,"y":7.05,"lo":6.1,"hi":7.8},
      {"s":"P2P-BN (100 - no BN FT)","e":34,"y":7.0,"lo":6.0,"hi":7.7},
      {"s":"P2P-BN (100 - no BN FT)","e":36,"y":7.23,"lo":6.6,"hi":7.9},
      {"s":"P2P-BN (100 - no BN FT)","e":38,"y":7.15,"lo":6.5,"hi":7.8},
      {"s":"P2P-BN (100 - no BN FT)","e":40,"y":7.18,"lo":6.6,"hi":8.3},
      {"s":"P2P-BN (100 - no BN FT)","e":42,"y":7.25,"lo":6.7,"hi":7.8},
      {"s":"P2P-BN (100 - no BN FT)","e":44,"y":7.2,"lo":6.6,"hi":7.8},
      {"s":"P2P-BN (100 - no BN FT)","e":46,"y":7.07,"lo":6.5,"hi":7.7},
      {"s":"P2P-BN (100 - no BN FT)","e":48,"y":7.44,"lo":6.9,"hi":8.0},
      {"s":"P2P-BN (100 - no BN FT)","e":50,"y":7.38,"lo":6.8,"hi":7.9},
      {"s":"P2P-BN (100 - no BN FT)","e":52,"y":7.3,"lo":6.8,"hi":7.8},
      {"s":"P2P-BN (100 - no BN FT)","e":54,"y":7.25,"lo":6.7,"hi":7.8},
      {"s":"P2P-BN (100 - no BN FT)","e":56,"y":7.35,"lo":6.8,"hi":7.9},
      {"s":"P2P-BN (100 - no BN FT)","e":58,"y":7.05,"lo":6.4,"hi":7.7},
      {"s":"P2P-BN (100 - no BN FT)","e":60,"y":7.25,"lo":6.7,"hi":7.8},
      {"s":"P2P-BN (100 - no BN FT)","e":62,"y":7.22,"lo":6.6,"hi":7.8},
      {"s":"P2P-BN (100 - no BN FT)","e":64,"y":7.3,"lo":6.8,"hi":7.9},
      {"s":"P2P-BN (100 - no BN FT)","e":66,"y":7.25,"lo":6.7,"hi":7.8},
      {"s":"P2P-BN (100 - no BN FT)","e":68,"y":7.22,"lo":6.7,"hi":7.8},
      {"s":"P2P-BN (100 - no BN FT)","e":70,"y":7.3,"lo":6.8,"hi":7.8},
      {"s":"P2P-BN (100 - no BN FT)","e":72,"y":7.4,"lo":6.9,"hi":7.9},
      {"s":"P2P-BN (100 - no BN FT)","e":73,"y":7.55,"lo":7.0,"hi":8.0},
      {"s":"P2P-BN (100 - no BN FT)","e":74,"y":7.35,"lo":6.8,"hi":7.9},
      {"s":"P2P-BN (100 - no BN FT)","e":76,"y":7.3,"lo":6.8,"hi":7.8},
      {"s":"P2P-BN (100 - no BN FT)","e":78,"y":7.25,"lo":6.7,"hi":7.8},
      {"s":"P2P-BN (100 - no BN FT)","e":80,"y":7.28,"lo":6.8,"hi":7.8},
      {"s":"P2P-BN (100 - no BN FT)","e":82,"y":7.22,"lo":6.7,"hi":7.8},
      {"s":"P2P-BN (100 - no BN FT)","e":84,"y":7.3,"lo":6.8,"hi":7.9},
      {"s":"P2P-BN (100 - no BN FT)","e":86,"y":7.35,"lo":6.8,"hi":7.9},
      {"s":"P2P-BN (100 - no BN FT)","e":88,"y":7.22,"lo":6.7,"hi":7.8},
      {"s":"P2P-BN (100 - no BN FT)","e":90,"y":7.32,"lo":6.8,"hi":7.9},
      {"s":"P2P-BN (100 - no BN FT)","e":92,"y":7.4,"lo":6.9,"hi":7.9},
      {"s":"P2P-BN (100 - no BN FT)","e":94,"y":7.12,"lo":6.7,"hi":7.7},
      {"s":"P2P-BN (100 - no BN FT)","e":96,"y":7.3,"lo":6.8,"hi":7.8},
      {"s":"P2P-BN (100 - no BN FT)","e":98,"y":7.35,"lo":6.9,"hi":7.8},
      {"s":"P2P-BN (100 - no BN FT)","e":100,"y":7.25,"lo":6.8,"hi":7.8},
      {"s":"P2P-BN (100 - no BN FT)","e":101,"y":7.22,"lo":6.8,"hi":7.7}
    ]
  },
  "spacing": 20,
  "resolve": {"scale": {"color": "independent"}, "legend": {"color": "independent"}},
  "hconcat": [
    {
      "width": 409, "height": 370,
      "title": {"text": "Sparse (directed)"},
      "data": {"name": "dir"},
      "layer": [
        {
          "mark": {"type": "area", "opacity": 0.2, "clip": true},
          "encoding": {
            "x": {"field": "e", "type": "quantitative", "scale": {"domain": [-5.05, 106.05], "nice": false, "zero": false},
                  "axis": {"values": [0, 20, 40, 60, 80, 100], "title": ["Epoch", "a)"], "titlePadding": 12, "titleLineHeight": 19}},
            "y": {"field": "lo", "type": "quantitative", "stack": null, "scale": {"domain": [0, 12], "nice": false},
                  "axis": {"values": [0,1,2,3,4,5,6,7,8,9,10,11,12], "labelOverlap": false, "title": "Test UA (%)", "titlePadding": 10}},
            "y2": {"field": "hi"},
            "color": {"field": "s", "type": "nominal",
                      "scale": {"domain": ["P2P-BN (300)", "P2P-BN (100)", "P2P-BN (300 - no BN FT)", "P2P-BN (100 - no BN FT)"],
                                "range": ["#ff0000", "#ffa500", "#0000ff", "#008000"]},
                      "legend": {"title": null}}
          }
        },
        {
          "mark": {"type": "line", "strokeWidth": 2.4, "clip": true},
          "encoding": {
            "x": {"field": "e", "type": "quantitative",
                  "axis": {"values": [0, 20, 40, 60, 80, 100], "title": ["Epoch", "a)"], "titlePadding": 12, "titleLineHeight": 19}},
            "y": {"field": "y", "type": "quantitative",
                  "axis": {"values": [0,1,2,3,4,5,6,7,8,9,10,11,12], "labelOverlap": false, "title": "Test UA (%)", "titlePadding": 10}},
            "color": {"field": "s", "type": "nominal", "legend": {"title": null}}
          }
        }
      ]
    },
    {
      "width": 409, "height": 370,
      "title": {"text": "Sparse (undirected)"},
      "data": {"name": "und"},
      "layer": [
        {
          "mark": {"type": "area", "opacity": 0.2, "clip": true},
          "encoding": {
            "x": {"field": "e", "type": "quantitative", "scale": {"domain": [-5.05, 106.05], "nice": false, "zero": false},
                  "axis": {"values": [0, 20, 40, 60, 80, 100], "title": ["Epoch", "b)"], "titlePadding": 12, "titleLineHeight": 19}},
            "y": {"field": "lo", "type": "quantitative", "stack": null, "scale": {"domain": [0, 12], "nice": false},
                  "axis": {"values": [0,1,2,3,4,5,6,7,8,9,10,11,12], "labelOverlap": false, "title": "Test UA (%)", "titlePadding": 10}},
            "y2": {"field": "hi"},
            "color": {"field": "s", "type": "nominal",
                      "scale": {"domain": ["P2P-BN (300)", "P2P-BN (100)", "P2P-BN (300 - no BN FT)", "P2P-BN (100 - no BN FT)"],
                                "range": ["#ff0000", "#ffa500", "#0000ff", "#008000"]},
                      "legend": {"title": null}}
          }
        },
        {
          "mark": {"type": "line", "strokeWidth": 2.4, "clip": true},
          "encoding": {
            "x": {"field": "e", "type": "quantitative",
                  "axis": {"values": [0, 20, 40, 60, 80, 100], "title": ["Epoch", "b)"], "titlePadding": 12, "titleLineHeight": 19}},
            "y": {"field": "y", "type": "quantitative",
                  "axis": {"values": [0,1,2,3,4,5,6,7,8,9,10,11,12], "labelOverlap": false, "title": "Test UA (%)", "titlePadding": 10}},
            "color": {"field": "s", "type": "nominal", "legend": {"title": null}}
          }
        }
      ]
    }
  ]
}
